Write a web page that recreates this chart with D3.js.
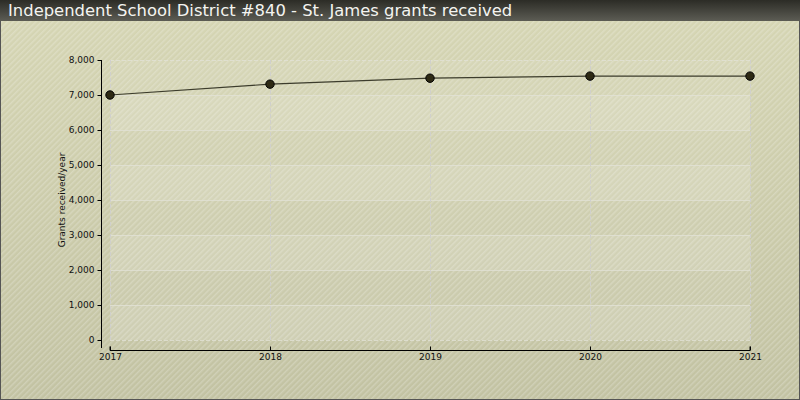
<!DOCTYPE html>
<html><head><meta charset="utf-8">
<script src="https://cdn.jsdelivr.net/npm/d3@7"></script>
<style>body{margin:0;background:#fff}svg{display:block}</style>
</head><body>
<script>
const years = [2017, 2018, 2019, 2020, 2021];
const grants = [7000, 7310, 7480, 7540, 7540];
const yTicks = [0, 1000, 2000, 3000, 4000, 5000, 6000, 7000, 8000];
const title = "Independent School District #840 - St. James grants received";
const yLabel = "Grants received/year";

const W = 800, H = 400;
const svg = d3.select("body").append("svg").attr("width", W).attr("height", H);
const defs = svg.append("defs");
const bg = defs.append("linearGradient").attr("id","bg").attr("x1",0).attr("y1",0).attr("x2",0).attr("y2",1);
bg.append("stop").attr("offset","0%").attr("stop-color","#d6d6b4");
bg.append("stop").attr("offset","100%").attr("stop-color","#c2c2a2");
const tg = defs.append("linearGradient").attr("id","tg").attr("x1",0).attr("y1",0).attr("x2",0).attr("y2",1);
tg.append("stop").attr("offset","0%").attr("stop-color","#2c2c26");
tg.append("stop").attr("offset","100%").attr("stop-color","#5c5c54");
const pat = defs.append("pattern").attr("id","stripes").attr("width",4).attr("height",4)
  .attr("patternUnits","userSpaceOnUse").attr("patternTransform","rotate(45)");
pat.append("rect").attr("width",1.5).attr("height",4).attr("fill","#ffffff").attr("opacity",0.22);

svg.append("rect").attr("width",W).attr("height",H).attr("fill","url(#bg)");
svg.append("rect").attr("width",W).attr("height",H).attr("fill","url(#stripes)");
svg.append("rect").attr("x",0.5).attr("y",0.5).attr("width",W-1).attr("height",H-1).attr("fill","none").attr("stroke","#555");

svg.append("rect").attr("width",W).attr("height",21).attr("fill","url(#tg)");
svg.append("text").attr("x",8).attr("y",16).attr("fill","#f4f4f0")
  .attr("font-family","DejaVu Sans").attr("font-size",16.4).text(title);

const x = d3.scalePoint().domain(years).range([110, 750]);
const y = d3.scaleLinear().domain([0, 8000]).range([340, 60]);

const plot = svg.append("g");
for (let i = 0; i < yTicks.length - 1; i++) {
  plot.append("rect").attr("x",110).attr("width",640)
    .attr("y", y(yTicks[i+1])).attr("height", y(yTicks[i]) - y(yTicks[i+1]))
    .attr("fill","#ffffff").attr("opacity", i % 2 === 0 ? 0.16 : 0.07);
}
yTicks.forEach(t => {
  plot.append("line").attr("x1",110).attr("x2",750).attr("y1",y(t)+0.5).attr("y2",y(t)+0.5)
    .attr("stroke","#e2e2d6").attr("stroke-width",1).attr("opacity",0.8)
    .attr("stroke-dasharray", (t===0||t===8000) ? "4,2" : null);
});
years.forEach(yr => {
  plot.append("line").attr("x1",x(yr)+0.5).attr("x2",x(yr)+0.5).attr("y1",60).attr("y2",340)
    .attr("stroke","#d0d0cc").attr("stroke-dasharray","4,2");
});

const yAxis = d3.axisLeft(y).tickValues(yTicks).tickSize(4).tickFormat(d3.format(","));
const ga = svg.append("g").attr("transform","translate(101.5,0)").call(yAxis);
ga.select(".domain").attr("d","M0,60V348").attr("stroke","#000");
ga.selectAll("text").attr("font-family","DejaVu Sans").attr("font-size",9).attr("fill","#111");

const xAxis = d3.axisBottom(x).tickSize(4).tickFormat(d3.format("d"));
const gx = svg.append("g").attr("transform","translate(0,350.5)").call(xAxis);
gx.select(".domain").attr("d","M110,-4V0H750V-4").attr("stroke","#000");
gx.selectAll(".tick line").attr("y1",-4).attr("y2",0);
gx.selectAll("text").attr("font-family","DejaVu Sans").attr("font-size",9).attr("fill","#111").attr("dy","0.9em").attr("y",1);

svg.append("text").attr("transform","translate(65,200) rotate(-90)").attr("text-anchor","middle")
  .attr("font-family","DejaVu Sans").attr("font-size",9).attr("fill","#111").text(yLabel);

const data = years.map((yr,i)=>({yr, v: grants[i]}));
svg.append("path").datum(data).attr("fill","none").attr("stroke","#3c3c2c").attr("stroke-width",1.2)
  .attr("d", d3.line().x(d=>x(d.yr)).y(d=>y(d.v)));
svg.selectAll("circle.pt").data(data).enter().append("circle").attr("class","pt")
  .attr("cx",d=>x(d.yr)).attr("cy",d=>y(d.v)).attr("r",4.2)
  .attr("fill","#2e2a14").attr("stroke","#000").attr("stroke-width",1);
</script>
</body></html>
